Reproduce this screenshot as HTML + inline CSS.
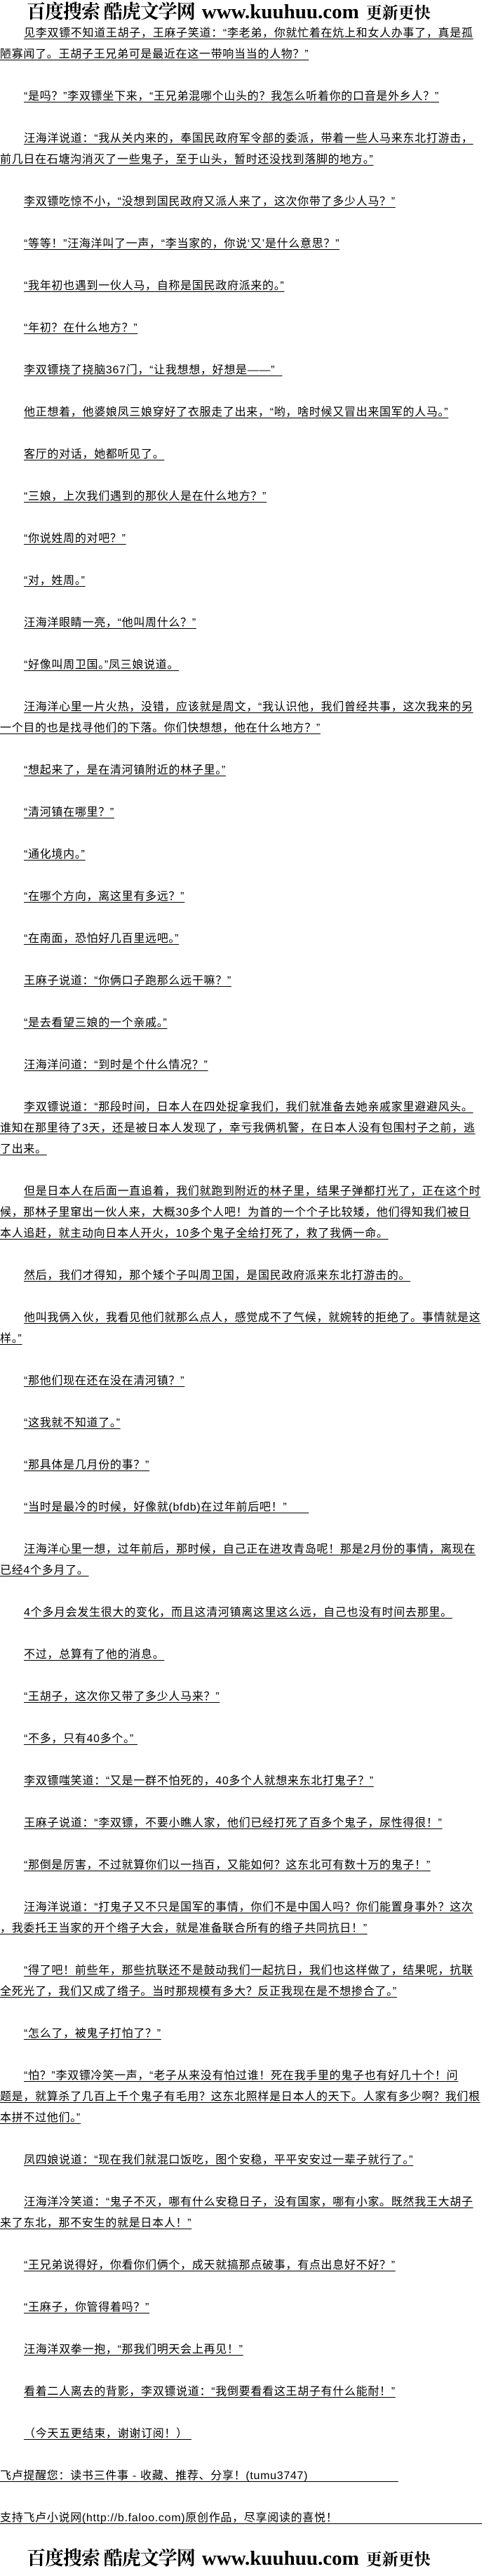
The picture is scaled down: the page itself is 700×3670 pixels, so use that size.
<!DOCTYPE html>
<html><head><meta charset="utf-8">
<style>
html,body{margin:0;padding:0;background:#fff;}
body{width:700px;height:3670px;position:relative;overflow:hidden;font-family:"Liberation Sans","Noto Sans CJK SC",sans-serif;color:#000;}
.l{position:absolute;left:0;white-space:nowrap;font-size:16px;letter-spacing:0.7px;line-height:30px;height:30px;text-decoration:underline;text-underline-offset:3px;text-decoration-thickness:1px;}
.i{left:34px;}
.hd{position:absolute;left:38px;white-space:nowrap;font-family:"Liberation Serif","Noto Serif CJK SC",serif;font-weight:bold;color:#000;line-height:34px;height:34px;}
.hd .c{font-size:27px;letter-spacing:-1px;}
.hd .u{font-size:29px;margin:0 10px;}
.hd .s{font-size:23px;}
</style></head><body>
<div class="hd" style="top:0px"><span class="c">百度搜索 酷虎文学网</span><span class="u">www.kuuhuu.com</span><span class="s">更新更快</span></div>

<div class="l i" style="top:33px">见李双镖不知道王胡子，王麻子笑道：“李老弟，你就忙着在炕上和女人办事了，真是孤</div>
<div class="l" style="top:63px">陋寡闻了。王胡子王兄弟可是最近在这一带响当当的人物？”</div>
<div class="l i" style="top:123px">“是吗？”李双镖坐下来，“王兄弟混哪个山头的？我怎么听着你的口音是外乡人？”</div>
<div class="l i" style="top:183px">汪海洋说道：“我从关内来的，奉国民政府军令部的委派，带着一些人马来东北打游击，</div>
<div class="l" style="top:213px">前几日在石塘沟消灭了一些鬼子，至于山头，暂时还没找到落脚的地方。”</div>
<div class="l i" style="top:273px">李双镖吃惊不小，“没想到国民政府又派人来了，这次你带了多少人马？”</div>
<div class="l i" style="top:333px">“等等！”汪海洋叫了一声，“李当家的，你说‘又’是什么意思？”</div>
<div class="l i" style="top:393px">“我年初也遇到一伙人马，自称是国民政府派来的。”</div>
<div class="l i" style="top:453px">“年初？在什么地方？”</div>
<div class="l i" style="top:513px">李双镖挠了挠脑367门，“让我想想，好想是——”&nbsp;&nbsp;</div>
<div class="l i" style="top:573px">他正想着，他婆娘凤三娘穿好了衣服走了出来，“哟，啥时候又冒出来国军的人马。”</div>
<div class="l i" style="top:633px">客厅的对话，她都听见了。</div>
<div class="l i" style="top:693px">“三娘，上次我们遇到的那伙人是在什么地方？”</div>
<div class="l i" style="top:753px">“你说姓周的对吧？”</div>
<div class="l i" style="top:813px">“对，姓周。”</div>
<div class="l i" style="top:873px">汪海洋眼睛一亮，“他叫周什么？”</div>
<div class="l i" style="top:933px">“好像叫周卫国。”凤三娘说道。</div>
<div class="l i" style="top:993px">汪海洋心里一片火热，没错，应该就是周文，“我认识他，我们曾经共事，这次我来的另</div>
<div class="l" style="top:1023px">一个目的也是找寻他们的下落。你们快想想，他在什么地方？”</div>
<div class="l i" style="top:1083px">“想起来了，是在清河镇附近的林子里。”</div>
<div class="l i" style="top:1143px">“清河镇在哪里？”</div>
<div class="l i" style="top:1203px">“通化境内。”</div>
<div class="l i" style="top:1263px">“在哪个方向，离这里有多远？”</div>
<div class="l i" style="top:1323px">“在南面，恐怕好几百里远吧。”</div>
<div class="l i" style="top:1383px">王麻子说道：“你俩口子跑那么远干嘛？”</div>
<div class="l i" style="top:1443px">“是去看望三娘的一个亲戚。”</div>
<div class="l i" style="top:1503px">汪海洋问道：“到时是个什么情况？”</div>
<div class="l i" style="top:1563px">李双镖说道：“那段时间，日本人在四处捉拿我们，我们就准备去她亲戚家里避避风头。</div>
<div class="l" style="top:1593px">谁知在那里待了3天，还是被日本人发现了，幸亏我俩机警，在日本人没有包围村子之前，逃</div>
<div class="l" style="top:1623px">了出来。</div>
<div class="l i" style="top:1683px">但是日本人在后面一直追着，我们就跑到附近的林子里，结果子弹都打光了，正在这个时</div>
<div class="l" style="top:1713px">候，那林子里窜出一伙人来，大概30多个人吧！为首的一个个子比较矮，他们得知我们被日</div>
<div class="l" style="top:1743px">本人追赶，就主动向日本人开火，10多个鬼子全给打死了，救了我俩一命。</div>
<div class="l i" style="top:1803px">然后，我们才得知，那个矮个子叫周卫国，是国民政府派来东北打游击的。</div>
<div class="l i" style="top:1863px">他叫我俩入伙，我看见他们就那么点人，感觉成不了气候，就婉转的拒绝了。事情就是这</div>
<div class="l" style="top:1893px">样。”</div>
<div class="l i" style="top:1953px">“那他们现在还在没在清河镇？”</div>
<div class="l i" style="top:2013px">“这我就不知道了。”</div>
<div class="l i" style="top:2073px">“那具体是几月份的事？”</div>
<div class="l i" style="top:2133px">“当时是最冷的时候，好像就(bfdb)在过年前后吧！”&nbsp;&nbsp;&nbsp;&nbsp;&nbsp;&nbsp;</div>
<div class="l i" style="top:2193px">汪海洋心里一想，过年前后，那时候，自己正在进攻青岛呢！那是2月份的事情，离现在</div>
<div class="l" style="top:2223px">已经4个多月了。</div>
<div class="l i" style="top:2283px">4个多月会发生很大的变化，而且这清河镇离这里这么远，自己也没有时间去那里。</div>
<div class="l i" style="top:2343px">不过，总算有了他的消息。</div>
<div class="l i" style="top:2403px">“王胡子，这次你又带了多少人马来？”</div>
<div class="l i" style="top:2463px">“不多，只有40多个。”&nbsp;</div>
<div class="l i" style="top:2523px">李双镖嗤笑道：“又是一群不怕死的，40多个人就想来东北打鬼子？”</div>
<div class="l i" style="top:2583px">王麻子说道：“李双镖，不要小瞧人家，他们已经打死了百多个鬼子，尿性得很！”</div>
<div class="l i" style="top:2643px">“那倒是厉害，不过就算你们以一挡百，又能如何？这东北可有数十万的鬼子！”</div>
<div class="l i" style="top:2703px">汪海洋说道：“打鬼子又不只是国军的事情，你们不是中国人吗？你们能置身事外？这次</div>
<div class="l" style="top:2733px">，我委托王当家的开个绺子大会，就是准备联合所有的绺子共同抗日！”</div>
<div class="l i" style="top:2793px">“得了吧！前些年，那些抗联还不是鼓动我们一起抗日，我们也这样做了，结果呢，抗联</div>
<div class="l" style="top:2823px">全死光了，我们又成了绺子。当时那规模有多大？反正我现在是不想掺合了。”</div>
<div class="l i" style="top:2883px">“怎么了，被鬼子打怕了？”</div>
<div class="l i" style="top:2943px">“怕？”李双镖冷笑一声，“老子从来没有怕过谁！死在我手里的鬼子也有好几十个！问</div>
<div class="l" style="top:2973px">题是，就算杀了几百上千个鬼子有毛用？这东北照样是日本人的天下。人家有多少啊？我们根</div>
<div class="l" style="top:3003px">本拼不过他们。”</div>
<div class="l i" style="top:3063px">凤四娘说道：“现在我们就混口饭吃，图个安稳，平平安安过一辈子就行了。”</div>
<div class="l i" style="top:3123px">汪海洋冷笑道：“鬼子不灭，哪有什么安稳日子，没有国家，哪有小家。既然我王大胡子</div>
<div class="l" style="top:3153px">来了东北，那不安生的就是日本人！”</div>
<div class="l i" style="top:3213px">“王兄弟说得好，你看你们俩个，成天就搞那点破事，有点出息好不好？”</div>
<div class="l i" style="top:3273px">“王麻子，你管得着吗？”</div>
<div class="l i" style="top:3333px">汪海洋双拳一抱，“那我们明天会上再见！”</div>
<div class="l i" style="top:3393px">看着二人离去的背影，李双镖说道：“我倒要看看这王胡子有什么能耐！”</div>
<div class="l i" style="top:3453px">（今天五更结束，谢谢订阅！）&nbsp;</div>
<div class="l" style="top:3513px">飞卢提醒您：读书三件事 - 收藏、推荐、分享！(tumu3747)&nbsp;&nbsp;&nbsp;&nbsp;&nbsp;&nbsp;&nbsp;&nbsp;&nbsp;&nbsp;&nbsp;&nbsp;&nbsp;&nbsp;&nbsp;&nbsp;&nbsp;&nbsp;&nbsp;&nbsp;&nbsp;&nbsp;&nbsp;&nbsp;&nbsp;</div>
<div class="l" style="top:3573px">支持飞卢小说网(http://b.faloo.com)原创作品，尽享阅读的喜悦！&nbsp;&nbsp;&nbsp;&nbsp;&nbsp;&nbsp;&nbsp;&nbsp;&nbsp;&nbsp;&nbsp;&nbsp;&nbsp;&nbsp;&nbsp;&nbsp;&nbsp;&nbsp;&nbsp;&nbsp;&nbsp;&nbsp;&nbsp;&nbsp;&nbsp;&nbsp;&nbsp;&nbsp;&nbsp;&nbsp;&nbsp;&nbsp;&nbsp;&nbsp;&nbsp;&nbsp;&nbsp;&nbsp;&nbsp;&nbsp;</div>

<div class="hd" style="top:3628px"><span class="c">百度搜索 酷虎文学网</span><span class="u">www.kuuhuu.com</span><span class="s">更新更快</span></div>
</body></html>
